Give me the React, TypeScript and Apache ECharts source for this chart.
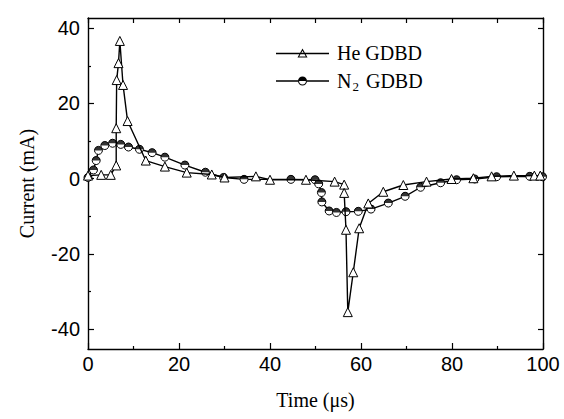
import React, { useEffect, useRef } from "react";
import * as echarts from "echarts";

const heTime = [0, 2.9, 5, 6.2, 6.2, 6.3, 6.7, 7, 7.7, 8.7, 12.7, 16.9, 21.7, 27.2, 30, 36.9, 40, 47.9, 54.2, 56.3, 56.3, 56.7, 57.1, 58.3, 59.6, 61.6, 64.9, 69.3, 74.4, 79.9, 84.7, 88.7, 93.6, 98.1, 99.4];
const heCurrent = [0.8, 1, 1, 3.5, 13.4, 26.2, 30.7, 36.6, 24.9, 15.3, 4.8, 3.2, 1.6, 1.1, 0.3, 0.6, -0.3, -0.3, -0.8, -1.6, -3.8, -13.6, -35.5, -24.9, -13.2, -6.6, -3.5, -1.7, -0.8, -0.1, 0.1, 0.6, 0.8, 0.8, 0.8];

const n2Time = [0, 1.2, 1.8, 2.3, 3.7, 5.4, 7.2, 8.9, 11.3, 14.1, 16.9, 21.3, 25.8, 29.8, 34.3, 44.6, 49.9, 50.7, 51.3, 51.4, 53, 54.6, 56.7, 59.4, 62.2, 66, 69.7, 73.1, 77.5, 81, 85, 89.8, 97.1, 99.9];
const n2Current = [0.3, 2.3, 4.8, 7.5, 8.8, 9.4, 9.1, 8.4, 7.8, 6.9, 5.7, 3.6, 1.7, 0.3, -0.2, -0.2, -0.3, -1.4, -3.7, -6.2, -8.6, -9, -8.8, -8.7, -8.1, -6.5, -4.7, -2.3, -1.1, -0.3, -0.1, 0.5, 0.6, 0.5];

const yTicks = [-40, -20, 0, 20, 40];
const yMinorTicks = [-30, -10, 10, 30];

const heName = "He GDBD";
const n2Name = "N2 GDBD";

const SANS = "Liberation Sans, Arial, sans-serif";
const SERIF = "Liberation Serif, Times New Roman, serif";

export default function App() {
  const ref = useRef<HTMLDivElement>(null);
  useEffect(() => {
    if (!ref.current) return;
    const chart = echarts.init(ref.current, undefined, { renderer: "svg" });
    const heData = heTime.map((t, i) => [t, heCurrent[i]]);
    const n2Data = n2Time.map((t, i) => [t, n2Current[i]]);
    const yMin = -45.3;
    const yMax = 42.7;
    const axisLine = { show: true, onZero: false, lineStyle: { color: "#000", width: 1.4 } };
    const tickStyle = { color: "#000", width: 1.2 };
    const heIcon =
      "path://M0 9.3 L53 9.3 L53 10.7 L0 10.7 Z M26.5 5 L31.5 14 L21.5 14 Z M26.5 7.2 L23.2 13 L29.8 13 Z";
    const n2Icon =
      "path://M0 9.3 L22 9.3 L22 10.7 L0 10.7 Z M31 9.3 L53 9.3 L53 10.7 L31 10.7 Z M22 10 A4.5 4.5 0 0 1 31 10 Z M31 10 A4.5 4.5 0 0 1 22 10 L23.1 10 A3.4 3.4 0 0 0 29.9 10 Z M0 5 L0.01 5 L0.01 15 L0 15 Z";
    chart.setOption({
      animation: false,
      backgroundColor: "#fff",
      grid: { left: 88, right: 21, top: 18, bottom: 70, containLabel: false },
      legend: {
        orient: "vertical",
        left: 276,
        top: 43,
        padding: 0,
        itemWidth: 53,
        itemHeight: 20,
        itemGap: 8,
        symbolKeepAspect: true,
        textStyle: {
          fontFamily: SERIF,
          fontSize: 20,
          color: "#000",
          rich: {
            f: { fontFamily: SERIF, fontSize: 20, color: "#000", padding: [0, 0, 0, 3] },
            a: { fontFamily: SERIF, fontSize: 20, color: "#000" },
            s: { fontFamily: SERIF, fontSize: 13, color: "#000", padding: [10, 2, 0, 1] },
          },
        },
        data: [
          { name: heName, icon: heIcon, itemStyle: { color: "#000", borderWidth: 0, opacity: 1 } },
          { name: n2Name, icon: n2Icon, itemStyle: { color: "#000", borderWidth: 0, opacity: 1 } },
        ],
        formatter: (name: string) => (name === n2Name ? "{f|N}{s|2}{a| GDBD}" : "{f|" + name + "}"),
      },
      xAxis: [
        {
          type: "value",
          position: "bottom",
          min: 0,
          max: 100,
          interval: 20,
          axisLine,
          axisTick: { show: true, inside: true, length: 6, lineStyle: tickStyle },
          minorTick: { show: true, splitNumber: 2, length: 3, lineStyle: tickStyle },
          splitLine: { show: false },
          minorSplitLine: { show: false },
          axisLabel: { fontFamily: SANS, fontSize: 20, color: "#000", margin: 5 },
          name: "Time (μs)",
          nameLocation: "middle",
          nameGap: 41,
          nameTextStyle: { fontFamily: SERIF, fontSize: 20, color: "#000" },
        },
        {
          type: "value",
          position: "top",
          min: 0,
          max: 100,
          interval: 10,
          axisLine,
          axisTick: { show: true, inside: true, length: 5, lineStyle: tickStyle },
          splitLine: { show: false },
          axisLabel: { show: false },
        },
      ],
      yAxis: [
        {
          type: "value",
          position: "left",
          min: yMin,
          max: yMax,
          axisLine,
          axisTick: { show: true, inside: true, length: 6, customValues: yTicks, lineStyle: tickStyle },
          splitLine: { show: false },
          axisLabel: { fontFamily: SANS, fontSize: 20, color: "#000", margin: 8, customValues: yTicks },
          name: "Current (mA)",
          nameLocation: "middle",
          nameGap: 51,
          nameTextStyle: { fontFamily: SERIF, fontSize: 20, color: "#000" },
        },
        {
          type: "value",
          position: "left",
          min: yMin,
          max: yMax,
          axisLine: { show: false, onZero: false },
          axisTick: { show: true, inside: true, length: 3, customValues: yMinorTicks, lineStyle: tickStyle },
          splitLine: { show: false },
          axisLabel: { show: false },
        },
        {
          type: "value",
          position: "right",
          min: yMin,
          max: yMax,
          axisLine,
          axisTick: { show: true, inside: true, length: 5, customValues: yTicks, lineStyle: tickStyle },
          splitLine: { show: false },
          axisLabel: { show: false },
        },
      ],
      series: [
        {
          name: n2Name,
          type: "line",
          data: n2Data,
          symbol: "circle",
          symbolSize: 8,
          lineStyle: { color: "#000", width: 1.4 },
          itemStyle: { color: "#fff", borderColor: "#000", borderWidth: 1 },
          z: 2,
        },
        {
          name: "n2-fill",
          type: "scatter",
          data: n2Data,
          symbol: "path://M0 5 A5 5 0 0 1 10 5 Z",
          symbolSize: [8, 4],
          symbolOffset: [0, -2],
          itemStyle: { color: "#000" },
          z: 3,
        },
        {
          name: heName,
          type: "line",
          data: heData,
          symbol: "triangle",
          symbolSize: 9,
          lineStyle: { color: "#000", width: 1.4 },
          itemStyle: { color: "#fff", borderColor: "#000", borderWidth: 1 },
          z: 4,
        },
      ],
    });
    return () => chart.dispose();
  }, []);
  return (
    <div
      ref={ref}
      style={{ position: "fixed", left: 0, top: 0, width: 564, height: 419, background: "#fff" }}
    />
  );
}
